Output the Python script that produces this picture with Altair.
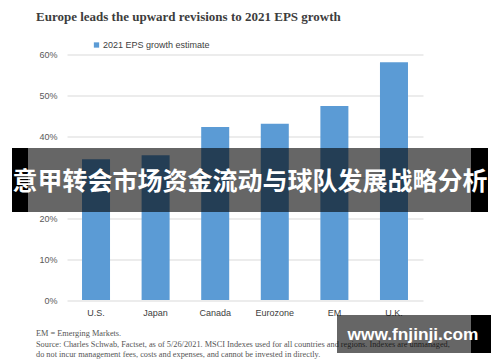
import altair as alt
import pandas as pd

# ---- data ----
regions = ["U.S.", "Japan", "Canada", "Eurozone", "EM", "U.K."]
eps_growth = [0.344, 0.354, 0.423, 0.431, 0.474, 0.581]
series_name = "2021 EPS growth estimate"
y_ticks = [0, 0.1, 0.2, 0.3, 0.4, 0.5, 0.6]

title_text = "Europe leads the upward revisions to 2021 EPS growth"
foot_lines = [
    "EM = Emerging Markets.",
    "Source: Charles Schwab, Factset, as of 5/26/2021. MSCI Indexes used for all countries and regions.  Indexes are unmanaged,",
    "do not incur management fees, costs and expenses, and cannot be invested in directly.",
]
banner_text = "意甲转会市场资金流动与球队发展战略分析"
watermark_text = "www.fnjinji.com"

df = pd.DataFrame({"region": regions, "growth": eps_growth, "series": [series_name] * len(regions)})

W, H = 356, 245.5

bars = alt.Chart(df).mark_bar(color="#5b9bd5").encode(
    x=alt.X("region:N", sort=regions,
            scale=alt.Scale(paddingInner=0.53, paddingOuter=0.252),
            axis=alt.Axis(title=None, labelAngle=0, ticks=False, domain=False,
                          labelFont="Liberation Sans", labelFontSize=9,
                          labelColor="#404040", labelPadding=8)),
    y=alt.Y("growth:Q", scale=alt.Scale(domain=[0, 0.6], nice=False),
            axis=alt.Axis(title=None, values=y_ticks, format=".0%", ticks=False,
                          domain=False, labelFont="Liberation Sans", labelFontSize=9,
                          labelColor="#595959", labelPadding=10,
                          gridColor="#d9d9d9", gridWidth=1)),
    color=alt.Color("series:N", scale=alt.Scale(range=["#5b9bd5"]),
                    legend=alt.Legend(title=None, orient="none", legendX=25, legendY=-14,
                                      symbolType="square", symbolSize=28,
                                      symbolStrokeWidth=0, padding=0,
                                      labelOffset=2, labelFont="Liberation Sans",
                                      labelFontSize=9, labelColor="#404040")),
)

one = pd.DataFrame({"k": [0]})

title = alt.Chart(pd.DataFrame({"t": [title_text]})).mark_text(
    align="left", baseline="alphabetic", font="Liberation Serif", fontWeight="bold",
    fontSize=13, color="#3d3d3d"
).encode(text="t:N", x=alt.value(-31), y=alt.value(-33.5))

foot_layers = []
for i, line in enumerate(foot_lines):
    foot_layers.append(
        alt.Chart(pd.DataFrame({"t": [line]})).mark_text(
            align="left", baseline="alphabetic", font="Liberation Serif",
            fontSize=8.3, color="#555555"
        ).encode(text="t:N", x=alt.value(-31), y=alt.value([281, 292.5, 302.5][i]))
    )

def rect(x1, x2, y1, y2, color, opacity=1.0):
    return alt.Chart(one).mark_rect(color=color, opacity=opacity).encode(
        x=alt.value(x1), x2=alt.value(x2), y=alt.value(y1), y2=alt.value(y2))

banner = [
    rect(-55, -39, 93.5, 157.5, "#000000"),
    rect(-39, 404, 93.5, 157.5, "#000000", 0.6),
    rect(404, 421, 93.5, 157.5, "#000000"),
    alt.Chart(pd.DataFrame({"t": [banner_text]})).mark_text(
        align="center", baseline="middle", font="Noto Sans CJK SC", fontWeight="bold",
        fontSize=25, color="#ffffff"
    ).encode(text="t:N", x=alt.value(183), y=alt.value(127)),
]

watermark = [
    rect(270, 404, 260.5, 298.5, "#000000", 0.6),
    rect(404, 424, 260.5, 298.5, "#000000"),
    alt.Chart(pd.DataFrame({"t": [watermark_text]})).mark_text(
        align="center", baseline="middle", font="Liberation Sans", fontWeight="bold",
        fontSize=17.3, color="#ffffff"
    ).encode(text="t:N", x=alt.value(346), y=alt.value(280.5)),
]

chart = alt.layer(bars, title, *foot_layers, *banner, *watermark).properties(
    width=W, height=H,
    autosize=alt.AutoSizeParams(type="none"),
    padding={"left": 59, "top": 46.5, "right": 69, "bottom": 60},
    background="#ffffff",
).configure_view(stroke=None)

chart.save("out.html", embed_options={"renderer": "svg", "actions": False})
